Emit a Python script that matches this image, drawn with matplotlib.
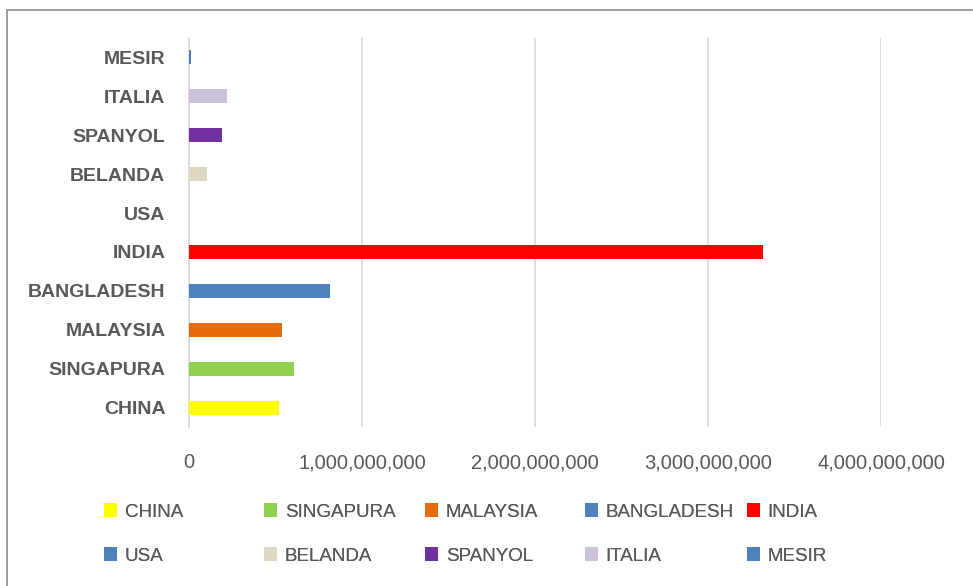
import matplotlib
matplotlib.use("Agg")
import matplotlib.pyplot as plt
from matplotlib.patches import Rectangle
from matplotlib.ticker import FuncFormatter

categories = ["CHINA", "SINGAPURA", "MALAYSIA", "BANGLADESH", "INDIA",
              "USA", "BELANDA", "SPANYOL", "ITALIA", "MESIR"]
values = [520e6, 607e6, 538e6, 815e6, 3318e6,
          0, 104e6, 190e6, 220e6, 10e6]
colors = ["#FFFF00", "#92D050", "#E46C0A", "#4F81BD", "#FF0000",
          "#4F81BD", "#DDD9C3", "#7030A0", "#CCC0DA", "#4F81BD"]
x_ticks = [0, 1e9, 2e9, 3e9, 4e9]

plt.rcParams['font.family'] = ['Liberation Sans', 'DejaVu Sans']
W, H = 973, 586
fig = plt.figure(figsize=(W / 100, H / 100), dpi=100)
fig.patch.set_facecolor("white")

ax = fig.add_axes([189 / W, 1 - 427 / H, (881 - 189) / W, (427 - 38) / H])
handles = []
for i, (c, v, col) in enumerate(zip(categories, values, colors)):
    b = ax.barh(i, v, height=0.36, color=col, label=c, zorder=3)
    handles.append(b)

ax.set_xlim(0, 4e9)
ax.set_ylim(-0.5, len(categories) - 0.5)
ax.set_yticks(range(len(categories)))
ax.set_yticklabels(categories, fontsize=14, fontweight="bold", color="#595959")
ax.set_xticks(x_ticks)
ax.xaxis.set_major_formatter(FuncFormatter(lambda v, p: f"{int(v):,}"))
for lab in ax.get_xticklabels():
    lab.set_fontsize(14.5)
    lab.set_color("#595959")
ax.tick_params(axis="both", length=0)
ax.tick_params(axis="x", pad=19)
ax.tick_params(axis="y", pad=17)
ax.grid(axis="x", color="#D9D9D9", linewidth=1.2, zorder=0)
for s in ["top", "right", "bottom"]:
    ax.spines[s].set_visible(False)
ax.spines["left"].set_color("#D9D9D9")
ax.spines["left"].set_linewidth(1.2)

# chart border
fig.patches.append(Rectangle((7 / W, -0.01), 1.1, 1.01 - 10 / H, transform=fig.transFigure,
                             fill=False, edgecolor="#8C8C8C", linewidth=1.2))

# legend, 5 columns x 2 rows
col_x = [104, 264, 425, 585, 747]
row_y = [512, 556]
for idx, h in enumerate(handles):
    r = idx // 5
    c = idx % 5
    leg = fig.legend([h], [categories[idx]], loc="center left",
                     bbox_to_anchor=(col_x[c] / W, 1 - row_y[r] / H),
                     frameon=False, fontsize=13.5, handlelength=0.7,
                     handleheight=0.7, handletextpad=0.4, borderpad=0,
                     borderaxespad=0, labelcolor="#595959")
    fig.add_artist(leg)

fig.savefig("out.png", dpi=100)
